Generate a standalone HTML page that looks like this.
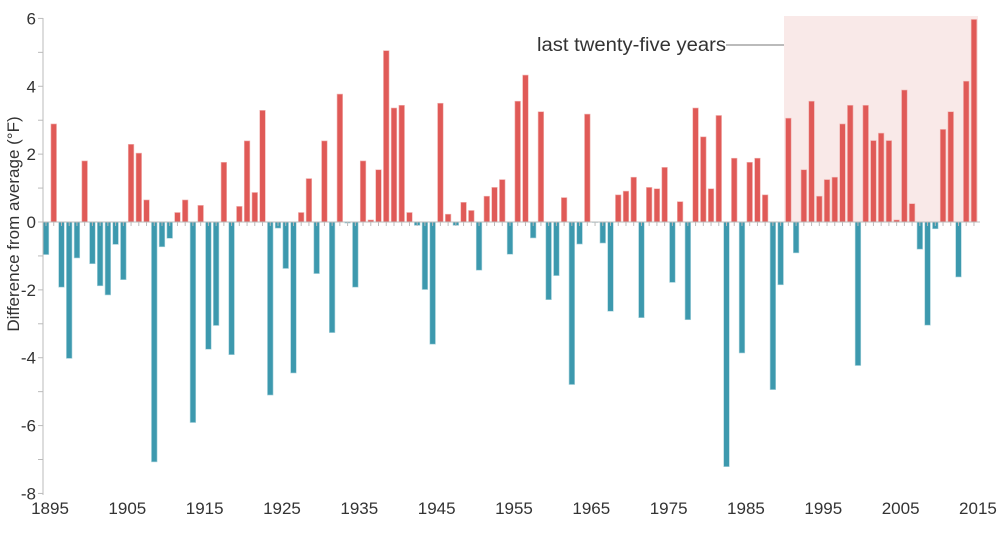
<!DOCTYPE html>
<html><head><meta charset="utf-8"><style>
html,body{margin:0;padding:0;background:#fff;}
svg{display:block;font-family:"Liberation Sans","DejaVu Sans",sans-serif;}
</style></head><body>
<svg id="c" width="1000" height="536" xmlns="http://www.w3.org/2000/svg">
<rect x="784" y="16" width="194" height="206" fill="#f9e9e8"/>
<line x1="726" y1="45" x2="784" y2="45" stroke="#777" stroke-width="1"/>
<text x="537" y="51" font-size="19" fill="#333" textLength="189" lengthAdjust="spacingAndGlyphs">last twenty-five years</text>
<g id="bars"></g>
<line x1="43" y1="222" x2="980" y2="222" stroke="#bbb" stroke-width="1"/>
<g id="ax"></g>
<text transform="translate(19,224) rotate(-90)" text-anchor="middle" font-size="17" fill="#333">Difference from average (°F)</text>
</svg>
<script>
var v=[-0.96,2.89,-1.92,-4.02,-1.06,1.8,-1.23,-1.88,-2.15,-0.66,-1.7,2.29,2.03,0.65,-7.07,-0.73,-0.48,0.28,0.65,-5.91,0.49,-3.75,-3.05,1.76,-3.91,0.46,2.39,0.87,3.29,-5.1,-0.18,-1.37,-4.45,0.28,1.28,-1.52,2.39,-3.26,3.77,-0.03,-1.92,1.8,0.06,1.54,5.05,3.36,3.44,0.28,-0.1,-1.99,-3.6,3.5,0.23,-0.1,0.58,0.34,-1.42,0.76,1.02,1.25,-0.95,3.56,4.33,-0.47,3.25,-2.29,-1.58,0.72,-4.79,-0.65,3.18,0.0,-0.62,-2.63,0.8,0.91,1.32,-2.82,1.02,0.98,1.61,-1.78,0.6,-2.88,3.36,2.51,0.98,3.14,-7.21,1.88,-3.86,1.76,1.88,0.8,-4.94,-1.85,3.06,-0.91,1.54,3.56,0.76,1.25,1.32,2.89,3.44,-4.23,3.44,2.4,2.62,2.4,0.06,3.89,0.54,-0.8,-3.04,-0.2,2.73,3.25,-1.62,4.15,5.97];
var ns="http://www.w3.org/2000/svg",b=document.getElementById("bars"),a=document.getElementById("ax");
var Z=222,U=33.93;
function el(p,t,at){var e=document.createElementNS(ns,t);for(var k in at)e.setAttribute(k,at[k]);p.appendChild(e);return e;}
v.forEach(function(d,i){var x=46+i*7.733;var h=Math.abs(d)*U;
el(b,"rect",{x:x-2.8,y:d>0?Z-h:Z,width:5.6,height:Math.max(h,0.5),fill:d>0?"#e05a57":"#3d99ae",stroke:d>0?"#f1b5b3":"#a9d3dc","stroke-width":0.6});
el(a,"line",{x1:x,y1:Z,x2:x,y2:Z+4,stroke:"#bbb","stroke-width":1});
if(i%10==0){var t=el(a,"text",{x:x+4,y:514,"text-anchor":"middle","font-size":17,fill:"#333"});t.textContent=1895+i;}
});
el(a,"line",{x1:43,y1:18,x2:43,y2:495,stroke:"#bbb","stroke-width":1});
for(var k=6;k>=-8;k--){var y=Z-k*U;el(a,"line",{x1:38,y1:y,x2:43,y2:y,stroke:"#bbb","stroke-width":1});
if(k%2==0){var t=el(a,"text",{x:36,y:y+6,"text-anchor":"end","font-size":17,fill:"#333"});t.textContent=k;}}
</script>
</body></html>
